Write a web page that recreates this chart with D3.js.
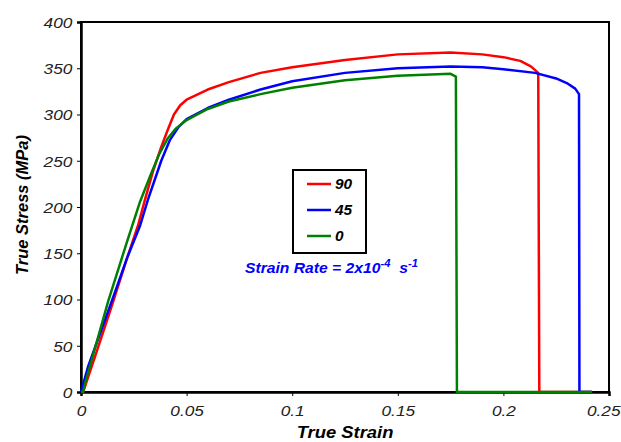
<!DOCTYPE html>
<html>
<head>
<meta charset="utf-8">
<script src="https://cdn.jsdelivr.net/npm/d3@7"></script>
<style>
  body { margin: 0; background: #fff; }
  text { font-family: "Liberation Sans", Arial, sans-serif; }
</style>
</head>
<body>
<svg id="chart" width="621" height="442"></svg>
<script>
// strain, stress pairs
const series90 = [[0,0],[0.001,0],[0.0066,38],[0.015,96],[0.022,146],[0.027,180],[0.0303,208],[0.034,238],[0.038,265],[0.041,283],[0.044,300],[0.047,310],[0.05,316],[0.06,327],[0.07,335],[0.085,345],[0.1,351],[0.125,359],[0.15,365],[0.175,367],[0.19,365],[0.2,362],[0.208,358],[0.213,352],[0.2165,345],[0.217,0],[0.242,0]];
const series45 = [[0,0],[0.0033,27],[0.0147,99],[0.022,146],[0.028,180],[0.0317,208],[0.035,230],[0.038,250],[0.042,272],[0.046,286],[0.05,295],[0.06,307],[0.07,316],[0.085,327],[0.1,336],[0.125,345],[0.15,350],[0.175,352],[0.19,351],[0.2,349],[0.215,345],[0.225,339],[0.23,334],[0.234,328],[0.2358,322],[0.236,0],[0.242,0]];
const series0 = [[0,0],[0.001,0],[0.002,10],[0.013,99],[0.022,164],[0.028,206],[0.033,235],[0.037,257],[0.041,274],[0.045,285],[0.05,294],[0.06,306],[0.07,314],[0.085,322],[0.1,329],[0.125,337],[0.15,342],[0.175,344],[0.1775,341],[0.178,0],[0.242,0]];
const seriesNames = ["90", "45", "0"];
const seriesColors = ["#ff0000", "#0000ff", "#008000"];
const xTicks = [0, 0.05, 0.1, 0.15, 0.2, 0.25];
const yTicks = [0, 50, 100, 150, 200, 250, 300, 350, 400];

const svg = d3.select("#chart");
const x = d3.scaleLinear().domain([0, 0.25]).range([81, 609]);
const y = d3.scaleLinear().domain([0, 400]).range([392, 22]);

// frame
svg.append("rect")
  .attr("x", x(0)).attr("y", y(400))
  .attr("width", x(0.25) - x(0)).attr("height", y(0) - y(400))
  .attr("fill", "none").attr("stroke", "#000").attr("stroke-width", 2);

const xAxis = svg.append("g")
  .attr("transform", `translate(0,${y(0)})`)
  .call(d3.axisBottom(x).tickValues(xTicks).tickSize(4).tickFormat(d => d));
const yAxis = svg.append("g")
  .attr("transform", `translate(${x(0)},0)`)
  .call(d3.axisLeft(y).tickValues(yTicks).tickSize(4).tickFormat(d => d));

[xAxis, yAxis].forEach(g => {
  g.select(".domain").attr("stroke-width", 2.5);
  g.selectAll(".tick line").attr("stroke-width", 1);
  g.selectAll(".tick text")
    .attr("font-size", 15).attr("font-style", "italic").attr("fill", "#222")
    .attr("transform", "scale(1.15,1)");
});
xAxis.selectAll(".tick text").attr("dy", "1.15em");
yAxis.selectAll(".tick text").attr("x", -7.5).attr("dy", "0.35em");
// last label would run off the edge
xAxis.selectAll(".tick text").filter(d => d === 0.25).attr("x", -5);

const line = d3.line().x(d => x(d[0])).y(d => y(d[1]));
const allSeries = [series90, series45, series0];
allSeries.forEach((s, i) => {
  svg.append("path")
    .datum(s)
    .attr("fill", "none")
    .attr("stroke", seriesColors[i])
    .attr("stroke-width", 2.5)
    .attr("stroke-linejoin", "round")
    .attr("d", line);
});

// legend
const legend = svg.append("g");
legend.append("rect")
  .attr("x", 293).attr("y", 170).attr("width", 73).attr("height", 83)
  .attr("fill", "#fff").attr("stroke", "#000").attr("stroke-width", 2);
seriesNames.forEach((name, i) => {
  const ly = 184 + i * 26;
  legend.append("line")
    .attr("x1", 307).attr("x2", 331).attr("y1", ly).attr("y2", ly)
    .attr("stroke", seriesColors[i]).attr("stroke-width", 2.5);
  legend.append("text")
    .attr("transform", `translate(335,${ly + 5}) scale(1.1,1)`)
    .attr("font-size", 14).attr("font-weight", "bold").attr("font-style", "italic")
    .text(name);
});

// annotation
const note = svg.append("text")
  .attr("transform", "translate(245,273) scale(1.12,1)")
  .attr("font-size", 14).attr("font-weight", "bold").attr("font-style", "italic")
  .attr("fill", "#0000ff");
note.append("tspan").text("Strain Rate = 2x10");
note.append("tspan").attr("font-size", 10).attr("dy", -6).text("-4");
note.append("tspan").attr("dy", 6).text("\u00a0 s");
note.append("tspan").attr("font-size", 10).attr("dy", -6).text("-1");

// axis titles
svg.append("text")
  .attr("transform", "translate(345,438) scale(1.15,1)")
  .attr("text-anchor", "middle")
  .attr("font-size", 16).attr("font-weight", "bold").attr("font-style", "italic")
  .text("True Strain");
svg.append("text")
  .attr("transform", `translate(28,${y(200) - 2}) rotate(-90)`)
  .attr("text-anchor", "middle")
  .attr("font-size", 16.5).attr("font-weight", "bold").attr("font-style", "italic")
  .text("True Stress (MPa)");
</script>
</body>
</html>
